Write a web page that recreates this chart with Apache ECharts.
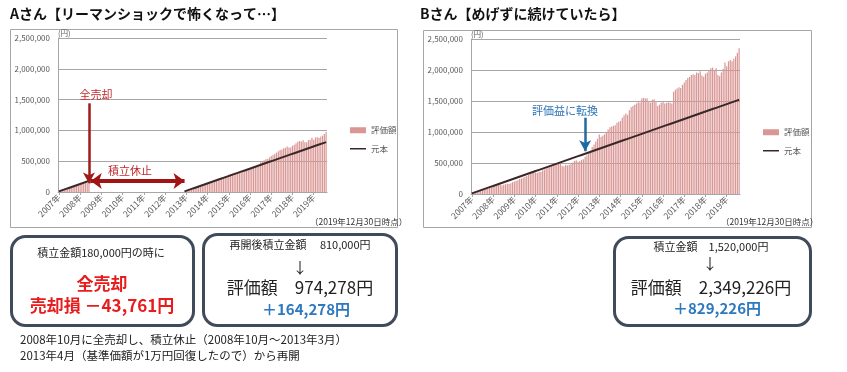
<!DOCTYPE html>
<html><head><meta charset="utf-8">
<script src="https://cdn.jsdelivr.net/npm/echarts@6/dist/echarts.min.js"></script>
<style>html,body{margin:0;padding:0;background:#fff}#c{width:847px;height:372px}</style>
</head><body><div id="c"></div>
<script>
// ---- categories: monthly, 2007/05 .. 2019/12 (152 months) ----
const months = [];
for (let y = 2007, m = 5; months.length < 152;) {
  months.push(y + '/' + String(m).padStart(2, '0'));
  m++; if (m > 12) { m = 1; y++; }
}
const seriesNames = ['評価額', '元本'];

// ---- Chart B (kept investing) ----
const valueB = [
  10000,20000,29000,38000,47000,57000,66000,72000,80000,88000,
  97000,104000,118000,127000,132000,142000,148000,136239,148000,158000,
  166000,160000,172000,190000,200000,212000,222000,240000,250000,262000,
  280000,292000,308000,322000,342000,355000,345000,340000,360000,355000,
  385000,395000,410000,430000,445000,462000,475000,478000,492000,488000,
  495000,455000,445000,470000,462000,470000,480000,508000,535000,540000,
  515000,532000,552000,560000,600000,625000,660000,700000,760000,800000,
  845000,890000,960000,920000,945000,965000,1000000,1040000,1075000,1090000,
  1100000,1110000,1150000,1165000,1180000,1230000,1270000,1300000,1280000,1350000,
  1400000,1420000,1440000,1460000,1480000,1470000,1540000,1550000,1540000,1545000,
  1500000,1470000,1520000,1530000,1480000,1420000,1440000,1470000,1490000,1460000,
  1470000,1480000,1470000,1460000,1650000,1680000,1700000,1720000,1710000,1760000,
  1800000,1840000,1870000,1890000,1920000,1930000,1920000,1960000,1950000,1980000,
  1910000,1890000,1940000,1960000,1990000,2030000,2040000,1990000,2030000,1920000,
  1900000,1960000,2020000,2120000,2060000,2140000,2160000,2140000,2180000,2220000,
  2280000,2349226
];
const principalB = [
  10000,20000,30000,40000,50000,60000,70000,80000,90000,100000,
  110000,120000,130000,140000,150000,160000,170000,180000,190000,200000,
  210000,220000,230000,240000,250000,260000,270000,280000,290000,300000,
  310000,320000,330000,340000,350000,360000,370000,380000,390000,400000,
  410000,420000,430000,440000,450000,460000,470000,480000,490000,500000,
  510000,520000,530000,540000,550000,560000,570000,580000,590000,600000,
  610000,620000,630000,640000,650000,660000,670000,680000,690000,700000,
  710000,720000,730000,740000,750000,760000,770000,780000,790000,800000,
  810000,820000,830000,840000,850000,860000,870000,880000,890000,900000,
  910000,920000,930000,940000,950000,960000,970000,980000,990000,1000000,
  1010000,1020000,1030000,1040000,1050000,1060000,1070000,1080000,1090000,1100000,
  1110000,1120000,1130000,1140000,1150000,1160000,1170000,1180000,1190000,1200000,
  1210000,1220000,1230000,1240000,1250000,1260000,1270000,1280000,1290000,1300000,
  1310000,1320000,1330000,1340000,1350000,1360000,1370000,1380000,1390000,1400000,
  1410000,1420000,1430000,1440000,1450000,1460000,1470000,1480000,1490000,1500000,
  1510000,1520000
];

// ---- Chart A (sold in 2008/10, paused until 2013/03, restarted 2013/04) ----
const valueA = [
  10000,20000,29000,38000,47000,57000,66000,72000,80000,88000,
  97000,104000,118000,127000,132000,142000,148000,136239,
  null,null,null,null,null,null,null,null,null,null,
  null,null,null,null,null,null,null,null,null,null,
  null,null,null,null,null,null,null,null,null,null,
  null,null,null,null,null,null,null,null,null,null,
  null,null,null,null,null,null,null,null,null,null,
  null,null,null,
  10000,20500,29000,39000,49500,60500,71500,82000,91000,100000,
  109000,121000,131000,140000,153000,165000,175000,180000,197000,212000,
  223000,234000,246000,258000,265000,285000,295000,302000,312000,312000,
  314000,333000,345000,343000,337000,351000,368000,382000,382000,394000,
  406000,413000,418000,482000,500000,515000,530000,537000,562000,585000,
  602000,622000,640000,660000,680000,688000,712000,718000,738000,722000,
  722000,750000,768000,790000,815000,828000,818000,842000,806000,808000,
  842000,850000,880000,850000,885000,890000,880000,900000,915000,940000,
  974278
];
const principalA = [
  10000,20000,30000,40000,50000,60000,70000,80000,90000,100000,
  110000,120000,130000,140000,150000,160000,170000,180000,
  null,null,null,null,null,null,null,null,null,null,
  null,null,null,null,null,null,null,null,null,null,
  null,null,null,null,null,null,null,null,null,null,
  null,null,null,null,null,null,null,null,null,null,
  null,null,null,null,null,null,null,null,null,null,
  null,null,null,
  10000,20000,30000,40000,50000,60000,70000,80000,90000,100000,
  110000,120000,130000,140000,150000,160000,170000,180000,190000,200000,
  210000,220000,230000,240000,250000,260000,270000,280000,290000,300000,
  310000,320000,330000,340000,350000,360000,370000,380000,390000,400000,
  410000,420000,430000,440000,450000,460000,470000,480000,490000,500000,
  510000,520000,530000,540000,550000,560000,570000,580000,590000,600000,
  610000,620000,630000,640000,650000,660000,670000,680000,690000,700000,
  710000,720000,730000,740000,750000,760000,770000,780000,790000,800000,
  810000
];
const yTicks = [0, 500000, 1000000, 1500000, 2000000, 2500000];

const FONT = '"Noto Sans CJK JP", "Noto Sans", sans-serif';
const BAR_COLOR = '#d99694';
const LINE_COLOR = '#3a2828';
const AXIS_GRAY = '#a6a6a6';
const LABEL_GRAY = '#595959';
const LINE_ICON = 'path://M0,0L0.01,0L0.01,0.01Z M0,2.3L16,2.3L16,3.7L0,3.7Z M0,5.99L0.01,5.99L0.01,6Z';

function xAxisCfg(gi) {
  return {
    type: 'category', gridIndex: gi, data: months, boundaryGap: true,
    axisLine: { lineStyle: { color: AXIS_GRAY } },
    axisTick: { show: true, alignWithLabel: true, interval: (i) => i % 12 === 0, length: 3, lineStyle: { color: AXIS_GRAY } },
    axisLabel: { interval: (i) => i % 12 === 0, rotate: 45, fontSize: 8.5, color: LABEL_GRAY, margin: 4,
      hideOverlap: false, fontFamily: FONT, formatter: (v) => v.slice(0, 4) + '年' }
  };
}
function yAxisCfg(gi) {
  return {
    type: 'value', gridIndex: gi, min: yTicks[0], max: yTicks[yTicks.length - 1], interval: yTicks[1] - yTicks[0],
    axisLine: { show: true, lineStyle: { color: AXIS_GRAY } },
    axisTick: { show: false },
    splitLine: { lineStyle: { color: AXIS_GRAY } },
    axisLabel: { fontSize: 8, color: LABEL_GRAY, margin: 8, fontFamily: FONT,
      formatter: (v) => v.toLocaleString('en-US') },
    name: '(円)', nameLocation: 'end', nameGap: 1,
    nameTextStyle: { fontSize: 7.5, color: LABEL_GRAY, align: 'left', verticalAlign: 'bottom', fontFamily: FONT }
  };
}
const legendCfg = (left, top) => ({
  left: left, top: top, orient: 'vertical', itemGap: 10, itemWidth: 16, itemHeight: 6,
  selectedMode: false, textStyle: { fontSize: 8.5, color: LABEL_GRAY, fontFamily: FONT },
  data: [{ name: seriesNames[0], icon: 'rect' }, { name: seriesNames[1], icon: LINE_ICON }]
});

function txt(text, x, y, size, opt) {
  opt = opt || {};
  return { type: 'text', silent: true, z: 50, style: {
    text: text, x: x, y: y, fontSize: size, fontFamily: FONT,
    fontWeight: opt.bold ? 'bold' : 'normal', fill: opt.color || '#222',
    align: opt.align || 'center', verticalAlign: 'middle' } };
}
function box(x, y, w, h) {
  return { type: 'rect', silent: true, z: 40, shape: { x: x, y: y, width: w, height: h, r: 14 },
    style: { fill: '#fff', stroke: '#3f4b5a', lineWidth: 3 } };
}

const option = {
  animation: false,
  backgroundColor: '#fff',
  textStyle: { fontFamily: FONT },
  grid: [
    { left: 58, top: 38, width: 269, height: 154 },
    { left: 471, top: 39, width: 269, height: 155 }
  ],
  xAxis: [xAxisCfg(0), xAxisCfg(1)],
  yAxis: [yAxisCfg(0), yAxisCfg(1)],
  legend: [legendCfg(345, 121), legendCfg(758, 123)],
  series: [
    { name: seriesNames[0], type: 'bar', xAxisIndex: 0, yAxisIndex: 0, data: valueA,
      barWidth: '68%', itemStyle: { color: BAR_COLOR }, silent: true },
    { name: seriesNames[1], type: 'line', xAxisIndex: 0, yAxisIndex: 0, data: principalA,
      symbol: 'none', connectNulls: false, lineStyle: { color: LINE_COLOR, width: 2 },
      itemStyle: { color: LINE_COLOR }, silent: true,
      markLine: { silent: true, animation: false, label: { show: false },
        lineStyle: { color: '#9e1b1b', width: 2.5, type: 'solid' },
        data: [
          [{ coord: ['2008/10', 1440000], symbol: 'none' },
           { coord: ['2008/10', 140000], symbol: 'arrow', symbolSize: [9, 11] }],
          [{ coord: ['2008/11', 178000], symbol: 'arrow', symbolSize: [12, 11], lineStyle: { width: 4, color: '#a01414' } },
           { coord: ['2013/04', 178000], symbol: 'arrow', symbolSize: [12, 11] }]
        ] } },
    { name: seriesNames[0], type: 'bar', xAxisIndex: 1, yAxisIndex: 1, data: valueB,
      barWidth: '68%', itemStyle: { color: BAR_COLOR }, silent: true },
    { name: seriesNames[1], type: 'line', xAxisIndex: 1, yAxisIndex: 1, data: principalB,
      symbol: 'none', lineStyle: { color: LINE_COLOR, width: 2 }, itemStyle: { color: LINE_COLOR }, silent: true,
      markLine: { silent: true, animation: false, label: { show: false },
        lineStyle: { color: '#1f6aa0', width: 2.5, type: 'solid' },
        data: [
          [{ coord: ['2012/09', 1230000], symbol: 'none' },
           { coord: ['2012/09', 690000], symbol: 'arrow', symbolSize: [9, 11] }]
        ] } }
  ],
  graphic: [
    { type: 'rect', silent: true, z: -10, shape: { x: 10.5, y: 29.5, width: 387, height: 198 },
      style: { fill: 'none', stroke: AXIS_GRAY, lineWidth: 1 } },
    { type: 'rect', silent: true, z: -10, shape: { x: 423.5, y: 30.5, width: 388, height: 197 },
      style: { fill: 'none', stroke: AXIS_GRAY, lineWidth: 1 } },
    txt('Aさん【リーマンショックで怖くなって…】', 10, 14, 14, { bold: true, align: 'left', color: '#111' }),
    txt('Bさん【めげずに続けていたら】', 420, 14, 14, { bold: true, align: 'left', color: '#111' }),
    txt('（2019年12月30日時点）', 310, 222, 8.5, { align: 'left', color: '#333' }),
    txt('（2019年12月30日時点）', 721, 222, 8.5, { align: 'left', color: '#333' }),
    txt('全売却', 96, 95, 11, { color: '#c0282d' }),
    txt('積立休止', 130, 171, 11, { color: '#c0282d' }),
    txt('評価益に転換', 565, 111, 11, { color: '#2e75b6' }),
    box(11.5, 236.5, 182, 89),
    box(203.5, 234.5, 193, 91),
    box(614.5, 237.5, 196, 88),
    txt('積立金額180,000円の時に', 101, 253, 11),
    txt('全売却', 102, 284, 17, { bold: true, color: '#e81c1c' }),
    txt('売却損 －43,761円', 102, 306, 17, { bold: true, color: '#e81c1c' }),
    txt('再開後積立金額　 810,000円', 300, 245, 11),
    txt('↓', 300, 267, 15),
    txt('評価額　974,278円', 300, 288, 17),
    txt('＋164,278円', 306, 309, 15, { bold: true, color: '#2e78bd' }),
    txt('積立金額　1,520,000円', 711, 247, 11),
    txt('↓', 710, 263, 15),
    txt('評価額　2,349,226円', 711, 288, 17),
    txt('＋829,226円', 717, 308, 15, { bold: true, color: '#2e78bd' }),
    txt('2008年10月に全売却し、積立休止（2008年10月～2013年3月）', 20, 340, 11.5, { align: 'left' }),
    txt('2013年4月（基準価額が1万円回復したので）から再開', 20, 356, 11.5, { align: 'left' })
  ]
};
const chart = echarts.init(document.getElementById('c'), null, { renderer: 'canvas' });
chart.setOption(option);
</script>
</body></html>
